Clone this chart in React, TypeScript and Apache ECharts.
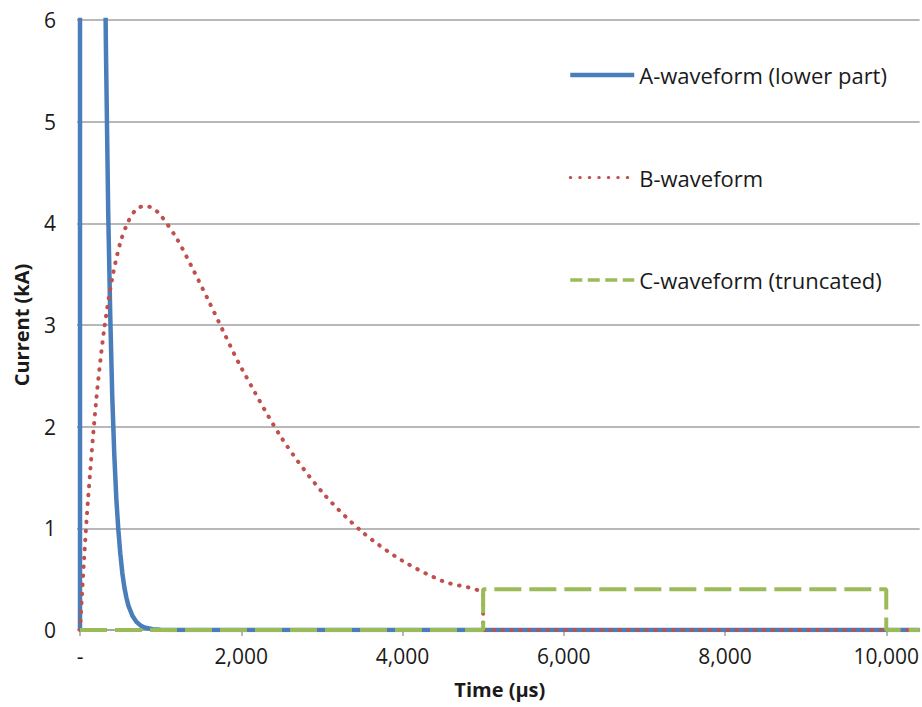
import React, { useEffect, useRef } from "react";
import * as echarts from "echarts";

// Time in µs, current in kA
const aWaveform: [number, number][] = [
  [0, 0], [5, 195], [50, 124], [100, 70.4], [150, 40], [200, 23], [250, 12.8],
  [300, 7.3], [322, 5.7], [350, 4.1], [375, 3.1], [400, 2.3], [425, 1.73],
  [450, 1.3], [475, 0.99], [500, 0.75], [525, 0.56], [550, 0.42], [575, 0.32],
  [600, 0.24], [650, 0.14], [700, 0.08], [750, 0.045], [800, 0.025],
  [900, 0.008], [1000, 0.002], [1100, 0], [10414, 0],
];

const bWaveform: [number, number][] = [
  [0, 0], [50, 0.69], [100, 1.29], [200, 2.25], [300, 2.96], [400, 3.46],
  [500, 3.81], [600, 4.02], [700, 4.14], [800, 4.17], [900, 4.15],
  [1000, 4.08], [1200, 3.85], [1400, 3.55], [1600, 3.23], [1800, 2.9],
  [2000, 2.58], [2500, 1.89], [3000, 1.36], [3500, 0.965], [4000, 0.68],
  [4500, 0.48], [5000, 0.34], [5000, 0], [10414, 0],
];

const cWaveform: [number, number][] = [
  [0, 0], [5000, 0], [5000, 0.4], [10000, 0.4], [10000, 0], [10414, 0],
];

const seriesNames = ["A-waveform (lower part)", "B-waveform", "C-waveform (truncated)"];
const xTicks = [0, 2000, 4000, 6000, 8000, 10000];

const BLUE = "#4A7EBB";
const RED = "#C0504D";
const GREEN = "#9BBB59";
const FONT = "'Open Sans', 'Liberation Sans', sans-serif";
const TEXT = "#1a1a1a";
const GRID = "#a0a0a0";

export default function App() {
  const ref = useRef<HTMLDivElement>(null);

  useEffect(() => {
    if (!ref.current) return;
    const chart = echarts.init(ref.current, undefined, { renderer: "svg" });
    const fmtX = (v: number) => (v === 0 ? "-" : v.toLocaleString("en-US"));
    const hidden = { opacity: 0 };
    chart.setOption({
      animation: false,
      backgroundColor: "#ffffff",
      textStyle: { fontFamily: FONT, color: TEXT },
      grid: { left: 80, top: 20, right: 0, bottom: 77, containLabel: false },
      legend: {
        orient: "vertical",
        left: 568,
        top: 64,
        padding: 0,
        itemWidth: 64,
        itemHeight: 22,
        itemGap: 80.5,
        textStyle: { fontFamily: FONT, fontSize: 22, color: TEXT },
        data: [
          { name: seriesNames[0], itemStyle: hidden, lineStyle: { width: 4.5, type: "solid" } },
          { name: seriesNames[1], itemStyle: hidden, lineStyle: { width: 3, type: [0.5, 9], cap: "round" } },
          { name: seriesNames[2], itemStyle: hidden, lineStyle: { width: 3.5, type: [12, 5.5] } },
        ],
      },
      xAxis: {
        type: "value",
        min: 0,
        max: 10414,
        interval: 2000,
        name: "Time (µs)",
        nameLocation: "middle",
        nameGap: 49,
        nameTextStyle: { fontFamily: FONT, fontSize: 20, fontWeight: "bold", color: TEXT },
        axisLine: { show: true, lineStyle: { color: GRID, width: 1.5 } },
        axisTick: { show: true, length: 6, customValues: xTicks, lineStyle: { color: GRID, width: 1.5 } },
        axisLabel: {
          fontSize: 21,
          color: TEXT,
          margin: 15,
          customValues: xTicks,
          formatter: (v: number) => fmtX(v),
        },
        splitLine: { show: false },
      },
      yAxis: {
        type: "value",
        min: 0,
        max: 6,
        interval: 1,
        name: "Current (kA)",
        nameLocation: "middle",
        nameGap: 49,
        nameTextStyle: { fontFamily: FONT, fontSize: 20, fontWeight: "bold", color: TEXT },
        axisLine: { show: true, lineStyle: { color: GRID, width: 1.5 } },
        axisTick: { show: true, length: 3, lineStyle: { color: GRID, width: 1.5 } },
        axisLabel: { fontSize: 21, color: TEXT, margin: 24 },
        splitLine: { show: true, lineStyle: { color: GRID, width: 1.5 } },
      },
      series: [
        {
          name: seriesNames[0],
          type: "line",
          data: aWaveform,
          showSymbol: false,
          symbol: "none",
          color: BLUE,
          lineStyle: { color: BLUE, width: 4.5 },
          z: 2,
        },
        {
          name: seriesNames[1],
          type: "line",
          data: bWaveform,
          showSymbol: false,
          symbol: "none",
          smooth: 0.3,
          color: RED,
          lineStyle: { color: RED, width: 4, type: [0.5, 8.5], cap: "round" },
          z: 3,
        },
        {
          name: seriesNames[2],
          type: "line",
          data: cWaveform,
          showSymbol: false,
          symbol: "none",
          color: GREEN,
          lineStyle: { color: GREEN, width: 4, type: [27, 8] },
          z: 4,
        },
      ],
    });
    return () => chart.dispose();
  }, []);

  return (
    <div
      ref={ref}
      style={{ position: "fixed", left: 0, top: 0, width: 922, height: 707, background: "#fff" }}
    />
  );
}
